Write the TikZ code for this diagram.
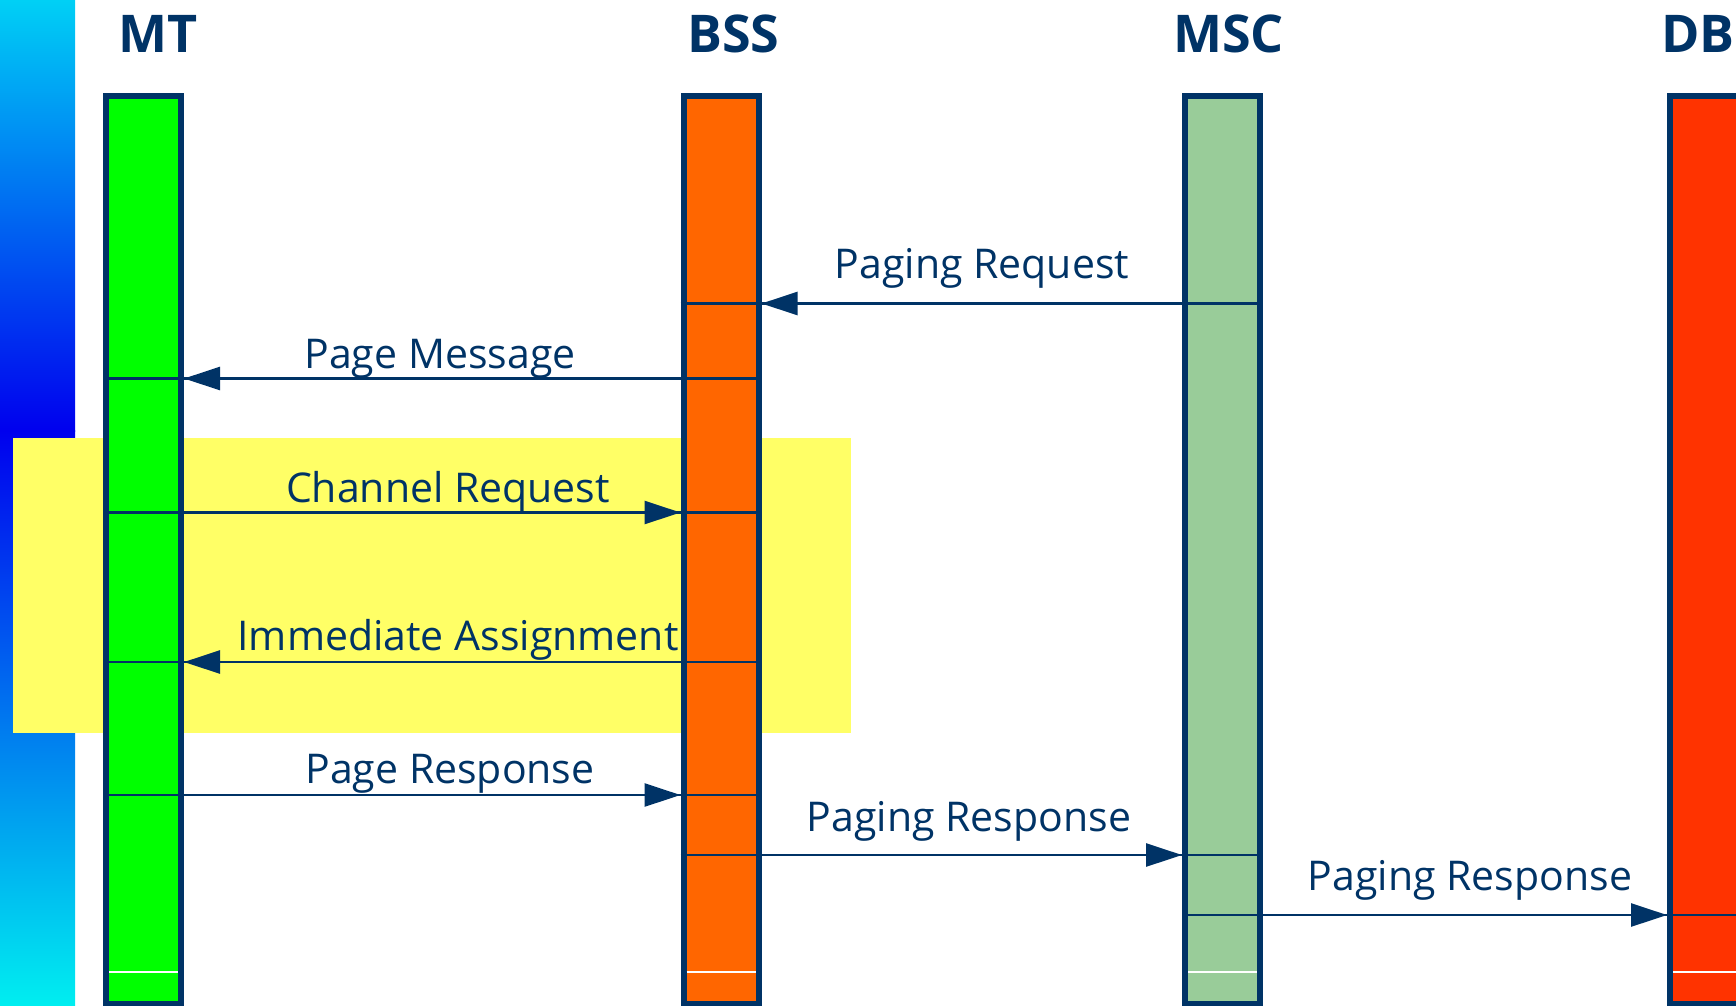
\documentclass[tikz,border=0pt]{standalone}
\usepackage{fontspec}
\setmainfont{Open Sans}
\usetikzlibrary{arrows.meta}
\definecolor{navy}{RGB}{0,51,102}
\definecolor{cyanA}{RGB}{0,208,245}
\definecolor{cyanB}{RGB}{0,238,240}
\definecolor{blueM}{RGB}{0,120,255}
\definecolor{blueM2}{RGB}{0,145,255}
\definecolor{blueD}{RGB}{0,0,238}
\definecolor{yellowbox}{RGB}{255,255,102}
\definecolor{mtgreen}{RGB}{0,255,0}
\definecolor{bssorange}{RGB}{255,102,0}
\definecolor{mscgreen}{RGB}{153,204,153}
\definecolor{dbred}{RGB}{255,51,0}
\tikzset{
  bar/.style={draw=navy, line width=6pt, minimum width=75pt, minimum height=908pt, inner sep=0pt},
  header/.style={text=navy, font=\bfseries\fontsize{52}{60}\selectfont, anchor=base west, inner sep=0pt},
  msglabel/.style={text=navy, font=\fontsize{41}{48}\selectfont, anchor=base, inner sep=0pt},
  msgline/.style={draw=navy, line width=2.6pt},
  msgarrow/.style={draw=navy, line width=2.6pt, -{Triangle[length=36pt,width=23pt]}},
  whiteline/.style={draw=white, line width=1.2pt}
}
\begin{document}
\begin{tikzpicture}[x=1pt,y=-1pt]
\useasboundingbox (0,0) rectangle (1736,1005);
% background gradient strip
\shade[top color=cyanA, middle color=blueM, bottom color=blueD] (0,0) rectangle (75,431);
\shade[top color=blueD, middle color=blueM2, bottom color=cyanB] (0,430) rectangle (75,1005);
% yellow highlight
\fill[yellowbox] (13,438) rectangle (851,733);
% headers
\node[header] (hmt) at (118,52) {MT};
\node[header] (hbss) at (687,52) {BSS};
\node[header] (hmsc) at (1173,52) {MSC};
\node[header, anchor=base east] (hdb) at (1735,52) {DB};
% message labels
\node[msglabel] (l1) at (982,278) {Paging Request};
\node[msglabel] (l2) at (440,368) {Page Message};
\node[msglabel] (l3) at (448,502) {Channel Request};
\node[msglabel] (l4) at (458,650) {Immediate Assignment};
\node[msglabel] (l5) at (450,783) {Page Response};
\node[msglabel] (l6) at (969,831) {Paging Response};
\node[msglabel] (l7) at (1470,890) {Paging Response};
% bars
\node[bar, fill=mtgreen] (mt) at (143.5,550) {};
\node[bar, fill=bssorange] (bss) at (721,550) {};
\node[bar, fill=mscgreen] (msc) at (1222.5,550) {};
\node[bar, fill=dbred] (db) at (1707.5,550) {};
% white lines near bottom
\coordinate (wl) at (0,972);
\foreach \b in {mt,bss,msc,db}{
  \draw[whiteline] ([xshift=6pt]\b.west |- wl) -- ([xshift=-6pt]\b.east |- wl);
}
% message levels
\coordinate (m1) at (0,303.5);
\coordinate (m2) at (0,378.5);
\coordinate (m3) at (0,512.5);
\coordinate (m4) at (0,662);
\coordinate (m5) at (0,795);
\coordinate (m6) at (0,855);
\coordinate (m7) at (0,915);
% Paging Request: MSC -> BSS
\draw[msgline] (bss.west |- m1) -- (msc.east |- m1);
\draw[msgarrow] (msc.west |- m1) -- (bss.east |- m1);
% Page Message: BSS -> MT
\draw[msgline] (mt.west |- m2) -- (bss.east |- m2);
\draw[msgarrow] (bss.west |- m2) -- (mt.east |- m2);
% Channel Request: MT -> BSS
\draw[msgline] (mt.west |- m3) -- (bss.east |- m3);
\draw[msgarrow] (mt.east |- m3) -- (bss.west |- m3);
% Immediate Assignment: BSS -> MT
\draw[msgline] (mt.west |- m4) -- (bss.east |- m4);
\draw[msgarrow] (bss.west |- m4) -- (mt.east |- m4);
% Page Response: MT -> BSS
\draw[msgline] (mt.west |- m5) -- (bss.east |- m5);
\draw[msgarrow] (mt.east |- m5) -- (bss.west |- m5);
% Paging Response: BSS -> MSC
\draw[msgline] (bss.west |- m6) -- (msc.east |- m6);
\draw[msgarrow] (bss.east |- m6) -- (msc.west |- m6);
% Paging Response: MSC -> DB
\draw[msgline] (msc.west |- m7) -- (db.east |- m7);
\draw[msgarrow] (msc.east |- m7) -- (db.west |- m7);
\end{tikzpicture}
\end{document}
